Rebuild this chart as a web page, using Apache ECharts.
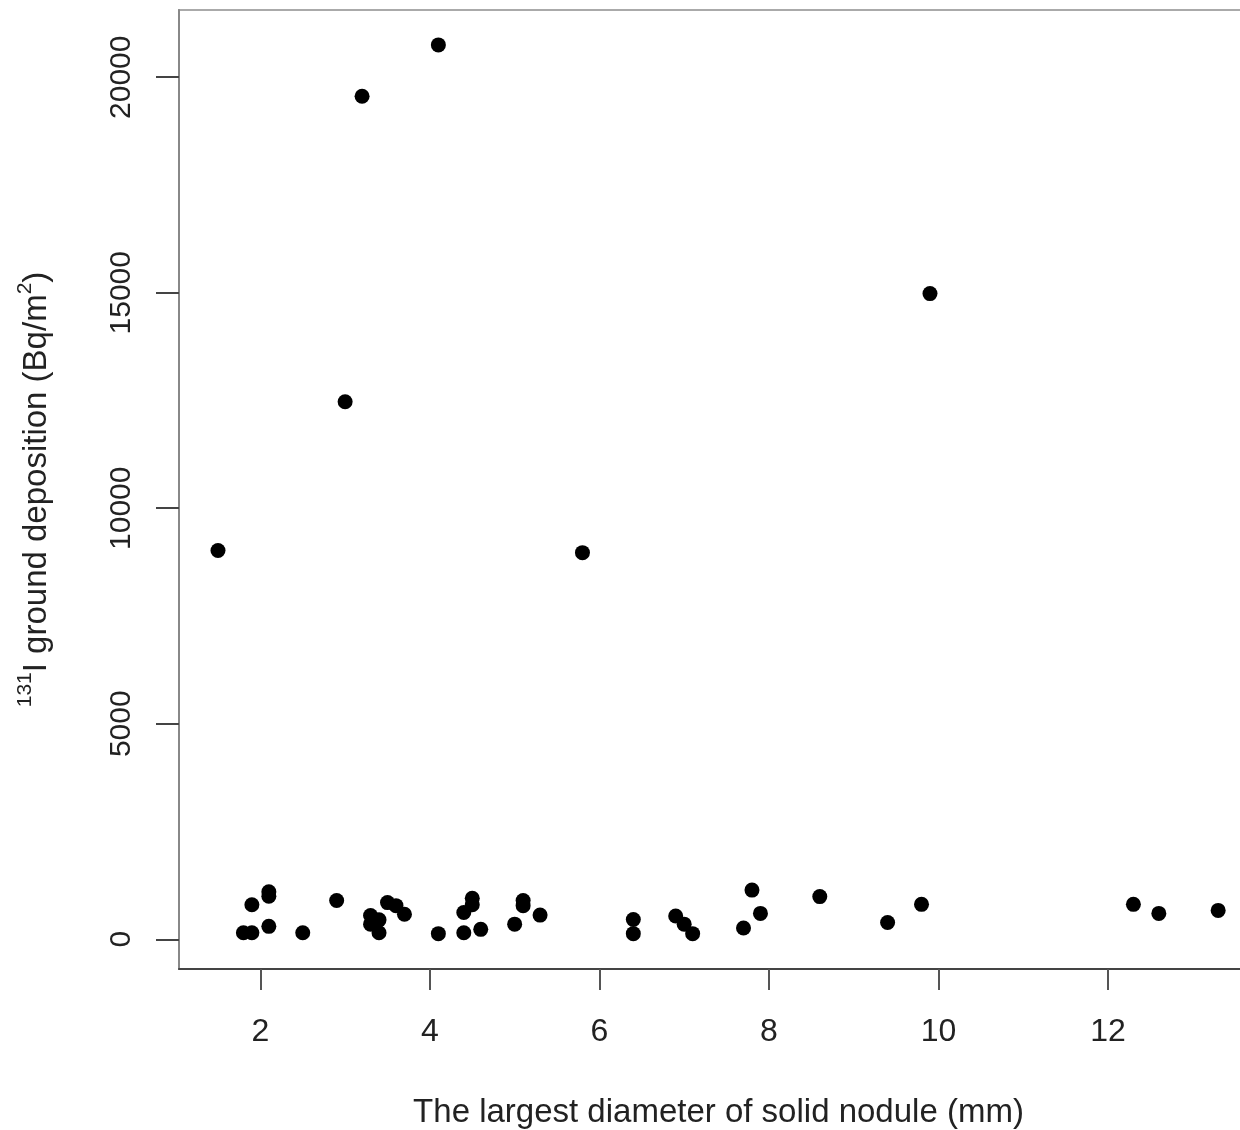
<!DOCTYPE html>
<html>
<head>
<meta charset="utf-8">
<script src="https://cdn.jsdelivr.net/npm/echarts@6/dist/echarts.min.js"></script>
<style>
html,body{margin:0;padding:0;background:#fff;}
#chart{width:1240px;height:1130px;}
</style>
</head>
<body>
<div id="chart"></div>
<script>
// Largest diameter of solid nodule (mm)
const diameterMm = [1.8, 1.9, 1.9, 2.1, 2.1, 2.1, 2.5, 2.9, 3.3, 3.3, 3.4, 3.4, 3.5, 3.6, 3.7,
  4.1, 4.4, 4.4, 4.5, 4.5, 4.6, 5.0, 5.1, 5.1, 5.3, 6.4, 6.4, 6.9, 7.0, 7.1,
  7.7, 7.8, 7.9, 8.6, 9.4, 9.8, 12.3, 12.6, 13.3, 1.5, 3.0, 3.2, 4.1, 5.8, 9.9];
// 131I ground deposition (Bq/m2)
const deposition = [150, 150, 800, 1000, 1100, 300, 150, 900, 550, 350, 450, 150, 850, 780, 580,
  130, 150, 620, 950, 800, 230, 350, 900, 780, 560, 460, 130, 540, 350, 130,
  260, 1140, 600, 990, 390, 810, 810, 600, 670, 9020, 12470, 19560, 20750, 8970, 14980];
const xTicks = [2, 4, 6, 8, 10, 12];
const yTicks = [0, 5000, 10000, 15000, 20000];

const points = diameterMm.map((d, i) => [d, deposition[i]]);

const chart = echarts.init(document.getElementById('chart'));
const font = 'Liberation Sans, Arial, sans-serif';
chart.setOption({
  animation: false,
  backgroundColor: '#fff',
  grid: {
    left: 179, top: 10, width: 1079, height: 959,
    show: true, borderColor: '#aaaaaa', borderWidth: 2,
    containLabel: false, outerBoundsMode: 'none'
  },
  xAxis: {
    type: 'value', min: 1.04, max: 13.77,
    splitLine: { show: false },
    axisLine: { show: true, onZero: false, lineStyle: { color: '#444', width: 2 } },
    axisTick: { show: true, inside: false, length: 21, customValues: xTicks, lineStyle: { color: '#555', width: 2 } },
    axisLabel: { customValues: xTicks, color: '#222', fontSize: 32, fontFamily: font, margin: 47,
      formatter: v => String(v) },
    name: 'The largest diameter of solid nodule (mm)',
    nameLocation: 'middle', nameGap: 127,
    nameTextStyle: { color: '#222', fontSize: 33, fontFamily: font }
  },
  yAxis: {
    type: 'value', min: -690, max: 21560,
    splitLine: { show: false },
    axisLine: { show: true, onZero: false, lineStyle: { color: '#888', width: 2 } },
    axisTick: { show: true, inside: false, length: 23, customValues: yTicks, lineStyle: { color: '#444', width: 2 } },
    axisLabel: { customValues: yTicks, color: '#222', fontSize: 30, fontFamily: font, rotate: 90, margin: 42, align: 'center',
      formatter: v => String(v) },
    name: '{sup|131}I ground deposition (Bq/m{sup|2})',
    nameLocation: 'middle', nameRotate: 90, nameGap: 120,
    nameTextStyle: {
      color: '#222', fontSize: 33, fontFamily: font,
      rich: {
        sup: { fontSize: 21, fontFamily: font, color: '#222', verticalAlign: 'top', lineHeight: 44 }
      }
    }
  },
  series: [{
    type: 'scatter',
    data: points,
    symbol: 'circle',
    symbolSize: 15,
    itemStyle: { color: '#000', opacity: 1 }
  }]
});
</script>
</body>
</html>
